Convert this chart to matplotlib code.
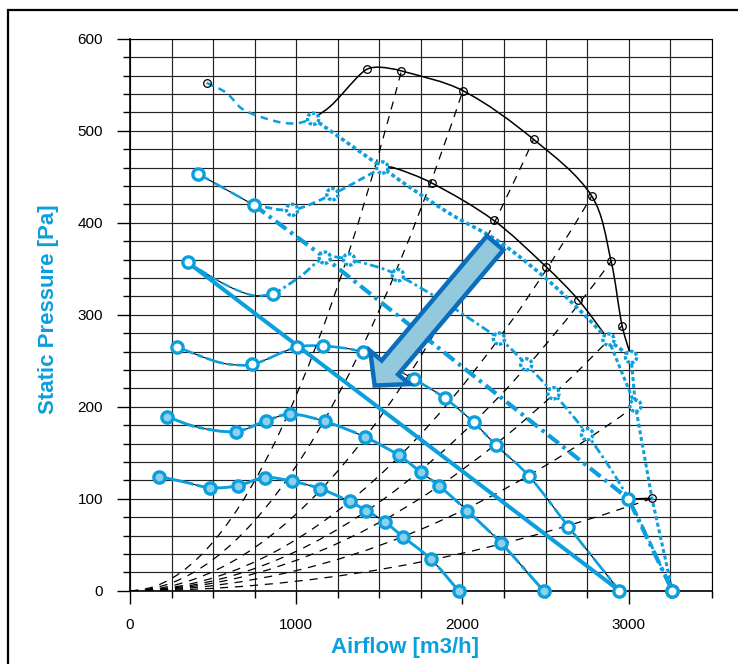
import numpy as np
import matplotlib
matplotlib.use("Agg")
import matplotlib.pyplot as plt
from matplotlib.path import Path
from matplotlib.patches import PathPatch, FancyArrowPatch, Rectangle, ArrowStyle
from matplotlib.ticker import MultipleLocator

BLUE = "#0C9FDD"
LIGHT = "#8DD0EC"
ARROW_FACE = "#93C9DD"
ARROW_EDGE = "#0A6EBD"

# ---- axis ticks ----
x_major = [0, 1000, 2000, 3000]
y_major = [0, 100, 200, 300, 400, 500, 600]

# ---- black envelope curves (airflow m3/h, pressure Pa) ----
outer_q = [1102, 1202, 1282, 1362, 1428, 1502, 1633, 2003, 2428, 2778, 2895, 2961, 3015]
outer_p = [513, 526, 541, 557, 567, 569, 565, 543.5, 490.6, 429, 358, 288, 254]
outer_mq = [1428, 1633, 2003, 2428, 2778, 2895, 2961]
outer_mp = [567, 565, 543.5, 490.6, 429, 358, 288]

inner_q = [1518, 1582, 1817, 2188, 2504, 2698, 2879]
inner_p = [460, 460, 443, 402.6, 352, 316, 273]
inner_mq = [1817, 2188, 2504, 2698]
inner_mp = [443, 402.6, 352, 316]

low_q = [2999, 3141]
low_p = [99.7, 100.4]

extra_mq = [461, 3141]
extra_mp = [552, 100.4]

# ---- system resistance curves, given by their upper end points ----
sys_q = [1633, 2003, 2428, 2778, 2895, 2961, 3041, 3141]
sys_p = [565, 543.5, 490.6, 429, 358, 288, 201, 100.4]

# ---- fan curves ----
top1_q = [461, 581, 681, 882, 1002, 1102]
top1_p = [552, 541, 523, 510, 508, 513]
top2_q = [1102, 1518, 1623, 1923, 2224, 2524, 2744, 2879, 3015]
top2_p = [513, 460, 446, 410, 379, 336, 298, 273, 254]
top3_q = [3015, 3041, 3141, 3263]
top3_p = [254, 201, 100, 0]
top4_q = [2879, 3041]
top4_p = [273, 201]
top_ring_q = [1102, 1518, 2879, 3015, 3041]
top_ring_p = [513, 460, 273, 254, 201]

b1_q = [411, 747]
b1_p = [453, 419]
b2_q = [747, 975, 1218, 1518]
b2_p = [419, 414, 431, 460]
b_open_q = [411, 747]
b_open_p = [453, 419]
b_ring_q = [975, 1218]
b_ring_p = [414, 431]

b3_q = [747, 1172, 2999, 3263]
b3_p = [419, 362, 100, 0]

c1_q = [347, 581, 741, 861]
c1_p = [357, 332, 321, 322]
c2_q = [861, 1022, 1172, 1318, 1612, 2220, 2384, 2548, 2750, 2999, 3263]
c2_p = [322, 341, 362, 360, 343, 274, 246, 214.6, 170, 100, 0]
c_open_q = [347, 861, 2999, 3263]
c_open_p = [357, 322, 100, 0]
c_ring_q = [1172, 1318, 1612, 2220, 2384, 2548, 2750]
c_ring_p = [362, 360, 343, 274, 246, 214.6, 170]

s_q = [347, 2945]
s_p = [357, 0]

d_q = [281, 502, 602, 737, 1002, 1162, 1402, 1707, 1897, 2067, 2204, 2400, 2638, 2945]
d_p = [265, 250, 246, 246, 264.6, 266, 259, 230, 209, 183, 158, 124.7, 69.6, 0]
d_mq = [281, 737, 1002, 1162, 1402, 1707, 1897, 2067, 2204, 2400, 2638, 2945]
d_mp = [265, 246, 264.6, 266, 259, 230, 209, 183, 158, 124.7, 69.6, 0]

e_q = [224, 401, 635, 817, 962, 1172, 1414, 1618, 1749, 1859, 2029, 2234, 2488]
e_p = [189, 178, 173, 184.5, 192, 184, 167, 147, 129, 114, 87, 51.5, 0]
e_mq = [224, 635, 817, 962, 1172, 1414, 1618, 1749, 1859, 2029, 2234, 2488]
e_mp = [189, 173, 184.5, 192, 184, 167, 147, 129, 114, 87, 51.5, 0]

f_q = [176, 320, 481, 647, 811, 975, 1142, 1322, 1422, 1532, 1642, 1809, 1977]
f_p = [124, 118.5, 112, 114, 123, 119, 111, 97, 87, 75, 58.7, 34.5, 0]
f_mq = [176, 481, 647, 811, 975, 1142, 1322, 1422, 1532, 1642, 1809, 1977]
f_mp = [124, 112, 114, 123, 119, 111, 97, 87, 75, 58.7, 34.5, 0]

# direction arrow (tail -> tip)
arrow_from = (2197, 378)
arrow_to = (1472, 223)

# ---------------------------------------------------------------
plt.rcParams["font.family"] = ["Liberation Sans", "DejaVu Sans"]

fig = plt.figure(figsize=(7.38, 6.64), dpi=100)
ax = fig.add_axes([130 / 738, 1 - 590.7 / 664, 581.7 / 738, 552 / 664])
ax.set_xlim(0, 3500)
ax.set_ylim(0, 600)

# scale used to measure chord lengths roughly in screen units
SX, SY = 0.1664, 0.92


def smooth_path(q, p):
    pts = np.column_stack([q, p]).astype(float)
    n = len(pts)
    if n < 3:
        return Path(pts)
    scr = pts * [SX, SY]
    d = np.hypot(*np.diff(scr, axis=0).T)
    verts = [pts[0]]
    codes = [Path.MOVETO]
    for i in range(n - 1):
        p1, p2 = pts[i], pts[i + 1]
        if i == 0:
            t1 = (p2 - p1)
        else:
            t1 = (p2 - pts[i - 1]) * d[i] / (d[i - 1] + d[i])
        if i == n - 2:
            t2 = (p2 - p1)
        else:
            t2 = (pts[i + 2] - p1) * d[i] / (d[i] + d[i + 1])
        verts += [p1 + t1 / 3, p2 - t2 / 3, p2]
        codes += [Path.CURVE4] * 3
    return Path(verts, codes)


def curve(q, p, color=BLUE, lw=1.6, ls="-", z=3, smooth=True):
    path = smooth_path(q, p) if smooth else Path(np.column_stack([q, p]))
    patch = PathPatch(path, facecolor="none", edgecolor=color, lw=lw,
                      linestyle=ls, zorder=z, capstyle="butt", joinstyle="round")
    ax.add_patch(patch)


def rings(q, p, face, ls="-"):
    ax.scatter(q, p, s=66, facecolors=face, edgecolors=BLUE, linewidths=2.4,
               linestyles=ls, zorder=6, clip_on=False)


# system curves: parabolas through the origin (quadratic Bezier)
for q, p in zip(sys_q, sys_p):
    path = Path([(0, 0), (q / 2, 0), (q, p)], [Path.MOVETO, Path.CURVE3, Path.CURVE3])
    ax.add_patch(PathPatch(path, facecolor="none", edgecolor="black", lw=0.9,
                           linestyle=(0, (6.5, 5.5)), zorder=1))

# black envelopes
curve(outer_q, outer_p, color="black", lw=1.1, z=2)
curve(inner_q, inner_p, color="black", lw=1.1, z=2)
curve(low_q, low_p, color="black", lw=1.1, z=2, smooth=False)
for mq, mp in [(outer_mq, outer_mp), (inner_mq, inner_mp), (extra_mq, extra_mp)]:
    ax.plot(mq, mp, "o", ms=5.5, mfc="none", mec="black", mew=0.9, zorder=5)

# thin black underlays of the measured curves
for q, p in [(d_q, d_p), (e_q, e_p), (f_q, f_p), (c1_q, c1_p), (b1_q, b1_p)]:
    curve(q, p, color="black", lw=0.8, z=2.5)

# blue fan curves
curve(top1_q, top1_p, lw=1.8, ls=(0, (3.0, 2.2)))
curve(top2_q, top2_p, lw=2.6, ls=(0, (1.1, 0.8)))
curve(top3_q, top3_p, lw=2.2, ls=(0, (1.3, 0.9)), smooth=False)
curve(top4_q, top4_p, lw=2.2, ls=(0, (1.3, 0.9)), smooth=False)

curve(b1_q, b1_p, lw=1.8, ls=(0, (5, 2.5)), smooth=False)
curve(b2_q, b2_p, lw=2.0, ls=(0, (2.6, 1.4)))
curve(b3_q, b3_p, lw=3.0, ls=(0, (3.2, 1.2, 0.8, 1.2)), smooth=False)

curve(c1_q, c1_p, lw=1.6, ls=(0, (4, 2)))
curve(c2_q, c2_p, lw=2.0, ls=(0, (3.2, 1.2, 1.0, 1.2)))

curve(s_q, s_p, lw=2.9, smooth=False)

curve(d_q, d_p, lw=1.9, ls=(0, (7, 1.5, 2, 1.5)))
curve(e_q, e_p, lw=2.1, ls=(0, (10, 1.2, 2, 1.2)))
curve(f_q, f_p, lw=2.1, ls=(0, (12, 1.2)))

# markers
rings(f_mq, f_mp, LIGHT)
rings(e_mq, e_mp, LIGHT)
rings(d_mq, d_mp, "white")
rings(b_open_q, b_open_p, "white")
rings(c_open_q, c_open_p, "white")
rings(top3_q[-1:], top3_p[-1:], "white")
rings(b_ring_q, b_ring_p, "white", ls=(0, (1.0, 0.55)))
rings(c_ring_q, c_ring_p, "white", ls=(0, (1.0, 0.55)))
rings(top_ring_q, top_ring_p, "white", ls=(0, (1.0, 0.55)))

# direction arrow
arrow = FancyArrowPatch(arrow_from, arrow_to,
                        arrowstyle=ArrowStyle.Simple(head_length=17, head_width=37, tail_width=15.5),
                        mutation_scale=1, facecolor=ARROW_FACE, edgecolor=ARROW_EDGE,
                        lw=3.2, joinstyle="miter", shrinkA=0, shrinkB=0, zorder=8)
ax.add_patch(arrow)

# axes styling
ax.set_xticks(x_major)
ax.set_xticklabels([str(v) for v in x_major])
ax.xaxis.set_minor_locator(MultipleLocator(250))
ax.set_yticks(y_major)
ax.set_yticklabels([str(v) for v in y_major])
ax.yaxis.set_minor_locator(MultipleLocator(20))
ax.tick_params(which="major", length=9.4, width=1.0, pad=10, labelsize=11, colors="black")
ax.tick_params(which="minor", length=5, width=1.0)
ax.set_axisbelow(True)
ax.grid(which="both", color="#222222", lw=0.85)
for side in ["top", "right"]:
    ax.spines[side].set_linewidth(0.8)
for side in ["left", "bottom"]:
    ax.spines[side].set_linewidth(1.2)

ax.set_xlabel("Airflow [m3/h]", fontsize=16, fontweight="bold", color=BLUE, va="center")
ax.xaxis.set_label_coords((405 - 130) / 581.7, -(648 - 590.7) / 552)
ax.set_ylabel("Static Pressure [Pa]", fontsize=16, fontweight="bold", color=BLUE, va="center")
ax.yaxis.set_label_coords(-(130 - 49) / 581.7, (590.7 - 309) / 552)

# outer frame
fig.add_artist(Rectangle((8 / 738, -0.2), 1.5, 1.2 - 10 / 664, transform=fig.transFigure,
                         fill=False, lw=1.6, edgecolor="black"))

fig.savefig("out.png", dpi=100)
